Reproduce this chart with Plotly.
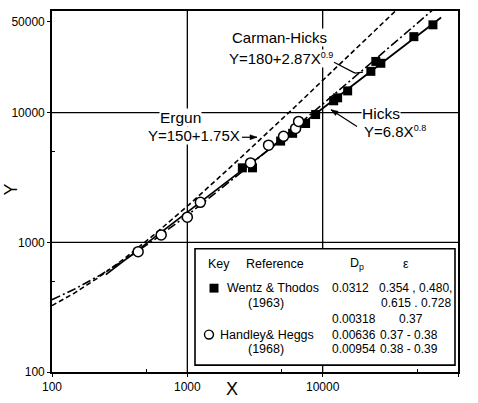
import numpy as np
import plotly.graph_objects as go

# ---------------- data ----------------
wentz_x = [2550, 3030, 4890, 6000, 7480, 8870, 12060, 12900, 15300, 22700, 24700, 26900, 47200, 65300]
wentz_y = [3750, 3750, 6030, 6920, 8240, 9660, 12330, 13000, 14700, 20800, 24800, 24000, 38500, 47500]
handley_x = [433, 641, 1000, 1248, 2930, 3981, 5140, 6310, 6640]
handley_y = [847, 1140, 1563, 2032, 4094, 5610, 6560, 7550, 8550]

# correlation equations printed on the chart
ergun_a, ergun_b = 150, 1.75            # Y = 150 + 1.75 X
ch_a, ch_b, ch_n = 180, 2.87, 0.9        # Y = 180 + 2.87 X^0.9
hicks_c, hicks_n = 6.8, 0.8              # Y = 6.8 X^0.8
x_curve = np.logspace(2, 5, 300)
x_hicks = np.logspace(np.log10(250), np.log10(75000), 300)

x_ticks = [100, 1000, 10000, 100000]
x_ticktext = ["100", "1000", "10000", "100000"]
y_ticks = [100, 1000, 10000, 50000]
y_ticktext = ["100", "1000", "10000", "50000"]
grid_vals = [1000, 10000]

# ---------------- geometry helpers ----------------
W, H = 478, 403
L, R, T, B = 52, 20, 9, 28
XR = [2, 5]
YR = [2, 2 + (H - T - B) / 131.5]
def px(x):
    return (x - L) / (W - L - R)
def py(y):
    return (H - B - y) / (H - T - B)

FONT = "Liberation Sans"
fig = go.Figure()

fig.add_trace(go.Scatter(x=x_curve, y=ergun_a + ergun_b * x_curve, mode="lines",
                         line=dict(color="black", width=1.6, dash="5px,3px"), showlegend=False))
fig.add_trace(go.Scatter(x=x_curve, y=ch_a + ch_b * x_curve ** ch_n, mode="lines",
                         line=dict(color="black", width=1.6, dash="9px,3px,2px,3px"), showlegend=False))
fig.add_trace(go.Scatter(x=x_hicks, y=hicks_c * x_hicks ** hicks_n, mode="lines",
                         line=dict(color="black", width=1.8), showlegend=False))
fig.add_trace(go.Scatter(x=wentz_x, y=wentz_y, mode="markers",
                         marker=dict(symbol="square", size=9, color="black"), showlegend=False))
fig.add_trace(go.Scatter(x=handley_x, y=handley_y, mode="markers",
                         marker=dict(symbol="circle", size=10, color="white",
                                     line=dict(color="black", width=1.5)), showlegend=False))

shapes = []
# grid lines only at 1000 and 10000
for v in grid_vals:
    fx = (np.log10(v) - XR[0]) / (XR[1] - XR[0])
    fy = (np.log10(v) - YR[0]) / (YR[1] - YR[0])
    shapes.append(dict(type="line", xref="paper", yref="paper", x0=fx, x1=fx, y0=0, y1=1,
                       line=dict(color="black", width=1.3), layer="below"))
    shapes.append(dict(type="line", xref="paper", yref="paper", x0=0, x1=1, y0=fy, y1=fy,
                       line=dict(color="black", width=1.3), layer="below"))

# key box
shapes.append(dict(type="rect", xref="paper", yref="paper", x0=px(195), x1=px(455),
                   y0=py(368), y1=py(250), fillcolor="white",
                   line=dict(color="black", width=1.6), layer="above"))
shapes.append(dict(type="rect", xref="paper", yref="paper", x0=px(209.5), x1=px(218.5),
                   y0=py(294.5), y1=py(285.5), fillcolor="black", line=dict(color="black", width=0),
                   layer="above"))
shapes.append(dict(type="circle", xref="paper", yref="paper", x0=px(204.5), x1=px(213.5),
                   y0=py(341.5), y1=py(332.5), fillcolor="white", line=dict(color="black", width=1.4),
                   layer="above"))


def leader(tail, tip, head=True):
    shapes.append(dict(type="line", xref="paper", yref="paper",
                       x0=px(tail[0]), y0=py(tail[1]), x1=px(tip[0]), y1=py(tip[1]),
                       line=dict(color="black", width=1.2), layer="above"))
    if head:
        dx, dy = tip[0] - tail[0], tip[1] - tail[1]
        n = (dx * dx + dy * dy) ** 0.5
        ux, uy = dx / n, dy / n
        bx, by = tip[0] - 7 * ux, tip[1] - 7 * uy
        p1 = (bx - 2.5 * uy, by + 2.5 * ux)
        p2 = (bx + 2.5 * uy, by - 2.5 * ux)
        path = "M {} {} L {} {} L {} {} Z".format(px(tip[0]), py(tip[1]), px(p1[0]), py(p1[1]),
                                                   px(p2[0]), py(p2[1]))
        shapes.append(dict(type="path", xref="paper", yref="paper", path=path,
                           fillcolor="black", line=dict(color="black", width=0.5), layer="above"))


leader((242, 137), (257, 137))
leader((334, 61), (355, 72), head=False)
leader((355, 72), (363, 71), head=False)
leader((357, 126), (331, 109))

ann = []
def text(s, x, y, size=12, xa="left", bg=None):
    d = dict(text=s, xref="paper", yref="paper", x=px(x), y=py(y), xanchor=xa, yanchor="middle",
             showarrow=False, font=dict(family=FONT, size=size, color="black"), borderpad=0)
    if bg:
        d["bgcolor"] = bg
    ann.append(d)

SUP = "<sup><span style='font-size:9px'>{}</span></sup>"
# curve labels
text("Carman-Hicks", 279, 36, 15, "center", "white")
text("Y=180+2.87X" + SUP.format("0.9"), 281, 57, 15, "center", "white")
text("Ergun", 180, 117, 15.5, "center", "white")
text("Y=150+1.75X", 194, 135, 15, "center", "white")
text("Hicks", 381, 113, 15.5, "center", "white")
text("Y=6.8X" + SUP.format("0.8"), 395, 131, 15, "center", "white")

# key table
text("Key", 207, 265, 12.5)
text("Reference", 245, 265, 12.5)
text("D<sub>p</sub>", 349, 265, 12.5)
text("ε", 402, 265, 12.5)
text("Wentz & Thodos", 226, 290, 12.5)
text("0.0312", 331, 290)
text("0.354 , 0.480,", 378, 290)
text("(1963)", 247, 305, 12.5)
text("0.615 . 0.728", 380, 305)
text("0.00318", 331, 321)
text("0.37", 398, 321)
text("Handley& Heggs", 219, 337, 12.5)
text("0.00636", 331, 337)
text("0.37 - 0.38", 379, 337)
text("(1968)", 247, 352, 12.5)
text("0.00954", 331, 352)
text("0.38 - 0.39", 379, 352)

# axis titles
ann.append(dict(text="X", xref="paper", yref="paper", x=px(232), y=py(392), showarrow=False,
                xanchor="center", yanchor="middle", font=dict(family=FONT, size=18, color="black")))
ann.append(dict(text="Y", xref="paper", yref="paper", x=px(11), y=py(190), showarrow=False,
                textangle=-90, xanchor="center", yanchor="middle",
                font=dict(family=FONT, size=18, color="black")))

axis_common = dict(type="log", showgrid=False, zeroline=False, showline=True, mirror=True,
                   linecolor="black", linewidth=1.6, ticks="outside", ticklen=3, tickwidth=1.2,
                   tickcolor="black", tickfont=dict(family=FONT, size=12, color="black"))

fig.update_layout(
    width=W, height=H, margin=dict(l=L, r=R, t=T, b=B),
    paper_bgcolor="white", plot_bgcolor="white", showlegend=False,
    xaxis=dict(range=XR, tickvals=x_ticks, ticktext=x_ticktext,
               minor=dict(tickvals=[500, 5000, 50000], ticks="inside", ticklen=3,
                          tickcolor="black"), **axis_common),
    yaxis=dict(range=YR, tickvals=y_ticks, ticktext=y_ticktext,
               minor=dict(tickvals=[500, 5000], ticks="inside", ticklen=3,
                          tickcolor="black"), **axis_common),
    shapes=shapes, annotations=ann,
)

fig.write_html("out.html")
